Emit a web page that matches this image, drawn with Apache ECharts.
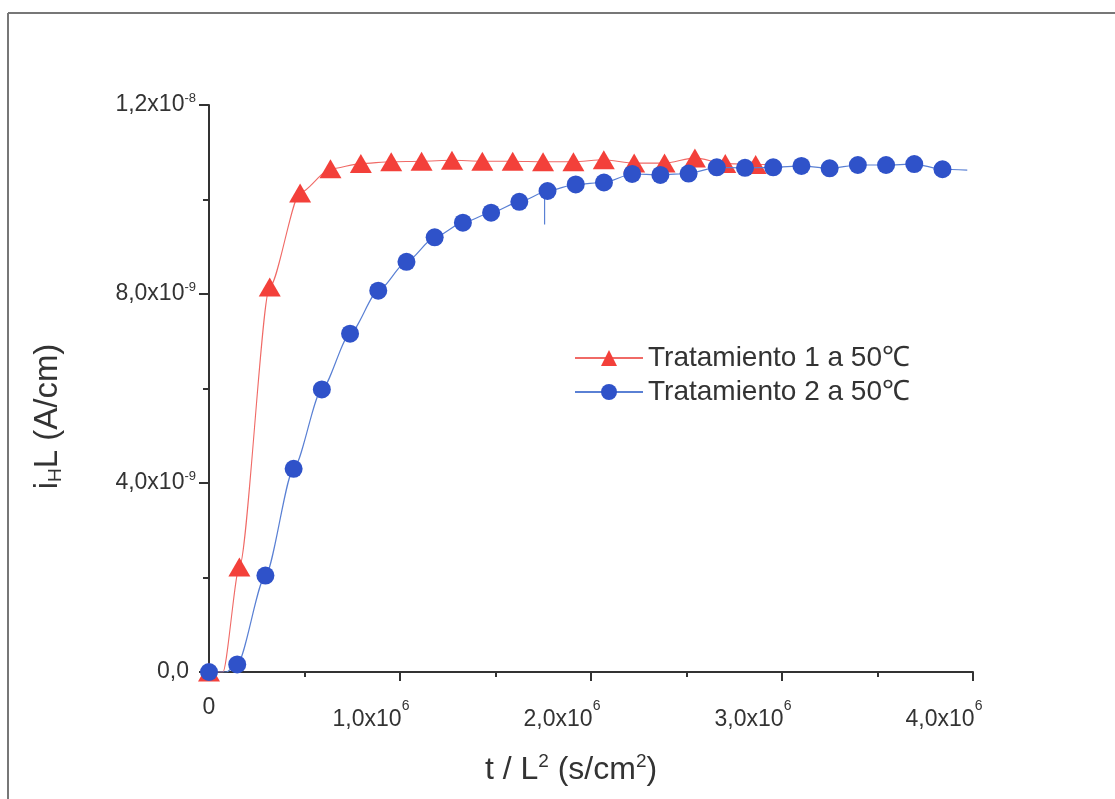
<!DOCTYPE html>
<html>
<head>
<meta charset="utf-8">
<script src="https://cdn.jsdelivr.net/npm/echarts@6/dist/echarts.min.js"></script>
<style>
  html, body { margin: 0; padding: 0; background: #fff; }
  #chart { width: 1115px; height: 799px; }
</style>
</head>
<body>
<div id="chart"></div>
<script>
// Permeation transients: normalised hydrogen current i_H·L vs t/L²
const seriesNames = ['Tratamiento 1 a 50\u2103', 'Tratamiento 2 a 50\u2103'];

// Treatment 1 (red triangles): t/L² in s/cm², i_H·L in A/cm
const t1X = [0, 0.159e6, 0.318e6, 0.477e6, 0.636e6, 0.795e6, 0.954e6, 1.113e6, 1.272e6, 1.431e6,
             1.590e6, 1.749e6, 1.908e6, 2.067e6, 2.226e6, 2.385e6, 2.544e6, 2.703e6, 2.862e6];
const t1Y = [0, 2.22e-9, 8.15e-9, 10.14e-9, 10.65e-9, 10.76e-9, 10.80e-9, 10.81e-9, 10.83e-9, 10.81e-9,
             10.81e-9, 10.80e-9, 10.80e-9, 10.84e-9, 10.77e-9, 10.77e-9, 10.88e-9, 10.76e-9, 10.74e-9];
// extra points on the red trace that carry no marker (start of rise, end of record)
const t1LineX = [0.073e6, 2.93e6];
const t1LineY = [0, 10.74e-9];

// Treatment 2 (blue circles)
const t2X = [0, 0.1477e6, 0.2954e6, 0.4431e6, 0.5908e6, 0.7385e6, 0.8862e6, 1.0339e6, 1.1816e6,
             1.3293e6, 1.4770e6, 1.6247e6, 1.7724e6, 1.9201e6, 2.0678e6, 2.2155e6, 2.3632e6, 2.5109e6,
             2.6586e6, 2.8063e6, 2.9540e6, 3.1017e6, 3.2494e6, 3.3971e6, 3.5448e6, 3.6925e6, 3.8402e6];
const t2Y = [0, 0.16e-9, 2.04e-9, 4.30e-9, 5.98e-9, 7.16e-9, 8.07e-9, 8.68e-9, 9.20e-9,
             9.51e-9, 9.72e-9, 9.95e-9, 10.18e-9, 10.32e-9, 10.36e-9, 10.54e-9, 10.52e-9, 10.55e-9,
             10.68e-9, 10.67e-9, 10.68e-9, 10.71e-9, 10.66e-9, 10.73e-9, 10.73e-9, 10.75e-9, 10.64e-9];
const t2LineX = [0.09e6, 3.97e6];
const t2LineY = [0, 10.62e-9];
// short downward glitch on the blue trace
const glitchX = [1.757e6, 1.757e6];
const glitchY = [10.12e-9, 9.47e-9];

// tick labels: [mantissa, exponent]
const yTickLabels = [['0,0', ''], ['4,0x10', '-9'], ['8,0x10', '-9'], ['1,2x10', '-8']];
const xTickLabels = [['0', ''], ['1,0x10', '6'], ['2,0x10', '6'], ['3,0x10', '6'], ['4,0x10', '6']];

const FONT = 'Liberation Sans, Arial, sans-serif';
const TXT = '#333';

function traceData(xs, ys, extraX, extraY) {
  const pts = xs.map((x, i) => ({ value: [x, ys[i]] }));
  extraX.forEach((x, i) => pts.push({ value: [x, extraY[i]], symbol: 'none' }));
  pts.sort((a, b) => a.value[0] - b.value[0]);
  return pts;
}

function tickFormatter(labels, step) {
  return function (v) {
    const t = labels[Math.round(v / step)];
    if (!t) return '';
    return t[1] ? '{m|' + t[0] + '}{e|' + t[1] + '}' : '{z|' + t[0] + '}';
  };
}

const chart = echarts.init(document.getElementById('chart'));
chart.setOption({
  backgroundColor: '#fff',
  animation: false,
  grid: { left: 209, right: 142, top: 105, bottom: 127, containLabel: false },
  graphic: [
    { type: 'line', shape: { x1: 8, y1: 13, x2: 8, y2: 799 }, style: { stroke: '#777', lineWidth: 2 } },
    { type: 'line', shape: { x1: 8, y1: 13, x2: 1115, y2: 13 }, style: { stroke: '#777', lineWidth: 2 } }
  ],
  legend: {
    data: seriesNames,
    orient: 'vertical',
    left: 569,
    top: 339,
    itemWidth: 68,
    itemHeight: 20,
    itemGap: 6,
    textStyle: { fontFamily: FONT, fontSize: 28, color: TXT, padding: [0, 0, 0, 0] }
  },
  xAxis: {
    type: 'value',
    min: 0, max: 4e6, interval: 1e6,
    name: 't / L{s|2} (s/cm{s|2})',
    nameLocation: 'middle',
    nameGap: 80,
    nameTextStyle: {
      fontFamily: FONT, fontSize: 32, color: TXT,
      padding: [0, 40, 0, 0],
      rich: { s: { fontFamily: FONT, fontSize: 19, color: TXT, padding: [0, 0, 17, 0] } }
    },
    axisLine: { show: true, onZero: false, lineStyle: { color: '#333', width: 2 } },
    axisTick: { show: true, inside: false, length: 9, lineStyle: { color: '#333', width: 2 } },
    minorTick: { show: true, splitNumber: 2, length: 5, lineStyle: { color: '#333', width: 2 } },
    splitLine: { show: false },
    axisLabel: {
      margin: 24,
      formatter: tickFormatter(xTickLabels, 1e6),
      rich: {
        z: { fontFamily: FONT, fontSize: 23, color: TXT },
        m: { fontFamily: FONT, fontSize: 23, color: TXT, padding: [12, 0, 0, 0] },
        e: { fontFamily: FONT, fontSize: 14, color: TXT, padding: [0, 58, 14, 0] }
      }
    }
  },
  yAxis: {
    type: 'value',
    min: 0, max: 1.2e-8, interval: 4e-9,
    name: '{a|i}{h|H}{a|L (A/cm)}',
    nameLocation: 'middle',
    nameRotate: 90,
    nameGap: 144,
    nameTextStyle: {
      padding: [0, 56, 0, 0],
      rich: {
        a: { fontFamily: FONT, fontSize: 33, color: TXT },
        h: { fontFamily: FONT, fontSize: 19, color: TXT, padding: [16, 0, 0, 0] }
      }
    },
    axisLine: { show: true, onZero: false, lineStyle: { color: '#333', width: 2 } },
    axisTick: { show: true, inside: false, length: 10, lineStyle: { color: '#333', width: 2 } },
    minorTick: { show: true, splitNumber: 2, length: 6, lineStyle: { color: '#333', width: 2 } },
    splitLine: { show: false },
    axisLabel: {
      margin: 13,
      formatter: tickFormatter(yTickLabels, 4e-9),
      rich: {
        z: { fontFamily: FONT, fontSize: 23, color: TXT, padding: [0, 7, 0, 0] },
        m: { fontFamily: FONT, fontSize: 23, color: TXT },
        e: { fontFamily: FONT, fontSize: 13, color: TXT, padding: [0, 0, 13, 0] }
      }
    }
  },
  series: [
    {
      name: seriesNames[0],
      type: 'line',
      data: traceData(t1X, t1Y, t1LineX, t1LineY),
      smooth: 0.25,
      smoothMonotone: 'x',
      symbol: 'triangle',
      symbolSize: [22, 19],
      showAllSymbol: true,
      itemStyle: { color: '#f3403a' },
      lineStyle: { color: '#f06a66', width: 1.1 },
      z: 2
    },
    {
      name: seriesNames[1],
      type: 'line',
      data: traceData(t2X, t2Y, t2LineX, t2LineY),
      smooth: 0.25,
      smoothMonotone: 'x',
      symbol: 'circle',
      symbolSize: 18,
      showAllSymbol: true,
      itemStyle: { color: '#2f52c9' },
      lineStyle: { color: '#5a80d4', width: 1.2 },
      z: 3
    },
    {
      name: 'glitch',
      type: 'line',
      data: glitchX.map((x, i) => [x, glitchY[i]]),
      symbol: 'none',
      lineStyle: { color: '#5a80d4', width: 1.2 },
      z: 3
    }
  ]
});
</script>
</body>
</html>
